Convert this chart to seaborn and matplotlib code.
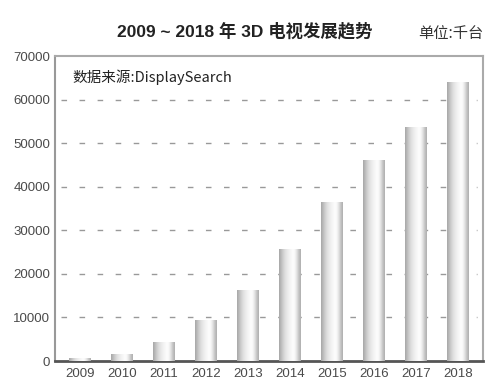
import numpy as np
import pandas as pd
import matplotlib
matplotlib.use('Agg')
import matplotlib.pyplot as plt
import seaborn as sns

# 数据 (千台)
years = ['2009', '2010', '2011', '2012', '2013', '2014', '2015', '2016', '2017', '2018']
shipments = [600, 1600, 4400, 9400, 16300, 25700, 36500, 46100, 53700, 64000]
y_ticks = [0, 10000, 20000, 30000, 40000, 50000, 60000, 70000]

df = pd.DataFrame({'year': years, 'shipments': shipments})

sns.set_style('white')
plt.rcParams['font.family'] = ['Liberation Sans', 'Noto Sans CJK SC', 'DejaVu Sans']

fig = plt.figure(figsize=(5, 3.92), dpi=100)
ax = fig.add_axes([0.11, 0.079, 0.856, 0.778])

sns.barplot(data=df, x='year', y='shipments', color='#cccccc', width=0.52, ax=ax)

# 圆柱渐变
grad = np.array([0.66, 0.73, 0.81, 0.87, 0.91, 0.94, 0.97, 0.99, 0.97, 0.88, 0.77, 0.69])
grad_img = np.interp(np.linspace(0, 1, 64), np.linspace(0, 1, len(grad)), grad)[None, :]
for p in ax.patches:
    x0, y0 = p.get_x(), p.get_y()
    w, h = p.get_width(), p.get_height()
    p.set_facecolor('none')
    p.set_edgecolor('none')
    im = ax.imshow(grad_img, cmap='gray', vmin=0, vmax=1, aspect='auto',
                   extent=[x0, x0 + w, y0, y0 + h], zorder=3)
    im.set_clip_path(p)

ax.set_xlim(-0.6, 9.6)
ax.set_ylim(0, 70000)
ax.set_yticks(y_ticks)
ax.set_yticklabels([str(v) for v in y_ticks])
ax.tick_params(axis='both', length=0, labelsize=9.5, colors='#4a4a4a')
ax.tick_params(axis='x', pad=5)
ax.set_xlabel('')
ax.set_ylabel('')

for v in y_ticks[1:-1]:
    ax.axhline(v, xmin=0.015, xmax=0.985, color='#999999', lw=1,
               linestyle=(0, (4, 9)), zorder=1)

for s in ['top', 'right']:
    ax.spines[s].set_color('#aaaaaa')
    ax.spines[s].set_linewidth(1.5)
ax.spines['left'].set_color('#999999')
ax.spines['left'].set_linewidth(1.5)
ax.spines['bottom'].set_color('#555555')
ax.spines['bottom'].set_linewidth(2)

fig.text(0.49, 0.922, '2009 ~ 2018 年 3D 电视发展趋势', ha='center', va='center',
         fontsize=12.5, fontweight='bold', color='#222222',
         family=['Liberation Sans', 'Noto Sans CJK SC'])
fig.text(0.966, 0.915, '单位:千台', ha='right', va='center', fontsize=11,
         color='#333333', family=['Noto Sans CJK SC'])
ax.text(0.04, 0.93, '数据来源:DisplaySearch', transform=ax.transAxes,
        ha='left', va='center', fontsize=10.5, color='#222222',
        family=['Noto Sans CJK SC', 'Liberation Sans'])

fig.savefig('out.png', dpi=100)
